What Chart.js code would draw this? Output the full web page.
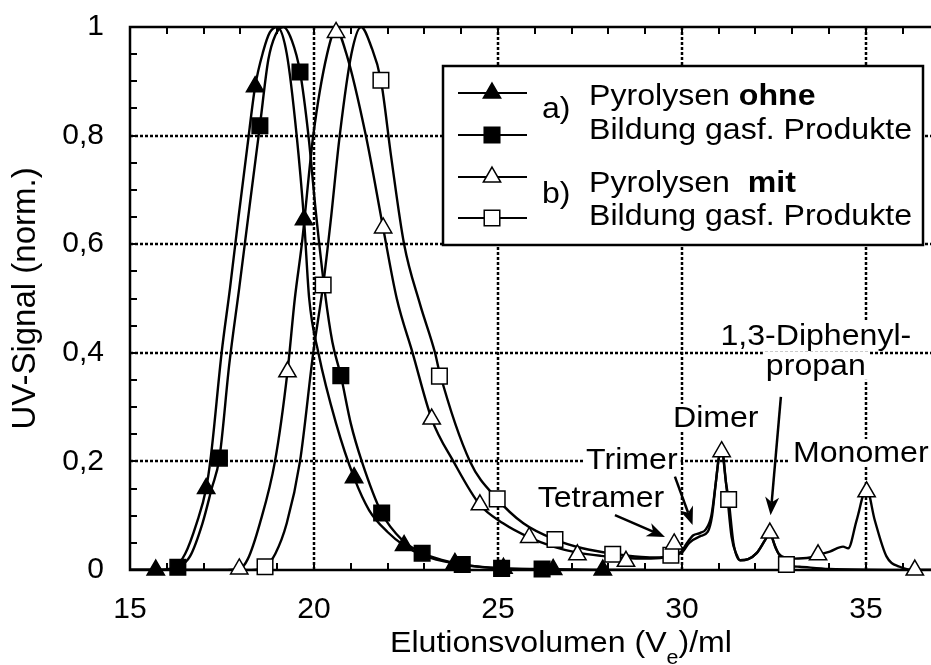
<!DOCTYPE html>
<html>
<head>
<meta charset="utf-8">
<script src="https://cdn.jsdelivr.net/npm/chart.js@4.4.1/dist/chart.umd.min.js"></script>
<style>
  html, body { margin: 0; padding: 0; background: #fff; }
  canvas { display: block; }
</style>
</head>
<body>
<canvas id="gpc" width="931" height="665"></canvas>
<script>
const FONT = '"Liberation Sans", Arial, Helvetica, sans-serif';
const SX = 1.07; // labels are set a little wide

// axes
const xTickLabels = [15, 20, 25, 30, 35];
const yTickValues = [0, 0.2, 0.4, 0.6, 0.8, 1];
const yTickLabels = ['0', '0,2', '0,4', '0,6', '0,8', '1'];
const X_MIN = 15, X_MAX = 36.77;

// a) Pyrolysen ohne Bildung gasf. Produkte -- gefuellte Dreiecke
const ohneTriVol = [15.0, 15.7, 16.2, 16.5, 16.81, 17.07, 17.2, 17.49, 17.72, 17.95, 18.19, 18.4, 18.62, 18.8, 19.0, 19.26, 19.53, 19.73, 19.87, 20.12, 20.6, 21.09, 21.5, 22.0, 22.45, 23.0, 23.83, 24.5, 25.15, 26.5, 27.85, 29.0];
const ohneTriSig = [0, 0, 0.005, 0.03, 0.086, 0.15, 0.21, 0.4, 0.52, 0.65, 0.78, 0.89, 0.955, 0.99, 1.0, 0.951, 0.8, 0.645, 0.5, 0.4, 0.27, 0.17, 0.11, 0.07, 0.045, 0.026, 0.012, 0.006, 0.003, 0.001, 0, 0];
const ohneTriMarkVol = [15.7, 17.07, 18.4, 19.73, 21.09, 22.45, 23.83, 25.15, 26.5, 27.85];
const ohneTriMarkSig = [0, 0.15, 0.89, 0.645, 0.17, 0.045, 0.012, 0.003, 0.001, 0];

// a) gefuellte Quadrate
const ohneSqVol = [15.0, 16.0, 16.3, 16.63, 16.97, 17.22, 17.43, 17.7, 17.97, 18.25, 18.53, 18.76, 18.95, 19.17, 19.4, 19.62, 19.85, 20.05, 20.3, 20.5, 20.73, 21.0, 21.3, 21.84, 22.4, 22.94, 23.5, 24.03, 25.1, 26.2, 28.0, 29.0];
const ohneSqSig = [0, 0, 0.005, 0.025, 0.086, 0.15, 0.206, 0.38, 0.52, 0.67, 0.818, 0.94, 0.985, 1.0, 0.975, 0.918, 0.8, 0.66, 0.51, 0.42, 0.358, 0.27, 0.2, 0.105, 0.055, 0.031, 0.018, 0.01, 0.003, 0.002, 0, 0];
const ohneSqMarkVol = [16.3, 17.43, 18.53, 19.62, 20.73, 21.84, 22.94, 24.03, 25.1, 26.2];
const ohneSqMarkSig = [0.005, 0.206, 0.818, 0.917, 0.358, 0.105, 0.031, 0.01, 0.003, 0.002];

// b) Pyrolysen mit Bildung gasf. Produkte -- offene Dreiecke
const mitTriVol = [15.0, 17.5, 17.97, 18.2, 18.53, 18.94, 19.28, 19.48, 19.67, 19.98, 20.36, 20.6, 20.88, 21.41, 21.88, 22.25, 22.68, 23.2, 23.79, 24.51, 25.14, 25.85, 26.5, 27.16, 27.8, 28.48, 29.0, 29.5, 29.79, 30.0, 30.13, 30.31, 30.49, 30.65, 30.8, 30.92, 31.0, 31.08, 31.21, 31.35, 31.49, 31.58, 31.8, 32.03, 32.26, 32.39, 32.5, 32.62, 32.85, 33.03, 33.48, 33.7, 34.02, 34.38, 34.52, 34.75, 35.02, 35.24, 35.56, 35.92, 36.33, 36.8];
const mitTriSig = [0, 0, 0.002, 0.02, 0.086, 0.2, 0.365, 0.5, 0.6, 0.8, 0.951, 0.995, 0.951, 0.8, 0.63, 0.5, 0.4, 0.278, 0.2, 0.12, 0.086, 0.06, 0.043, 0.032, 0.026, 0.022, 0.021, 0.023, 0.03, 0.035, 0.049, 0.064, 0.068, 0.075, 0.1, 0.16, 0.205, 0.222, 0.153, 0.061, 0.028, 0.018, 0.02, 0.031, 0.055, 0.068, 0.05, 0.031, 0.022, 0.021, 0.023, 0.028, 0.034, 0.043, 0.04, 0.092, 0.15, 0.092, 0.025, 0.006, 0, 0];
const mitTriMarkVol = [17.97, 19.28, 20.6, 21.88, 23.2, 24.51, 25.85, 27.16, 28.48, 29.79, 31.08, 32.39, 33.7, 35.02, 36.33];
const mitTriMarkSig = [0.002, 0.365, 0.99, 0.63, 0.278, 0.12, 0.06, 0.028, 0.016, 0.048, 0.218, 0.068, 0.028, 0.144, 0];

// b) offene Quadrate
const mitSqVol = [15.0, 18.3, 18.67, 18.95, 19.26, 19.62, 19.98, 20.25, 20.45, 20.7, 21.02, 21.28, 21.55, 21.82, 22.1, 22.45, 22.88, 23.29, 23.41, 24.24, 24.98, 25.69, 26.55, 27.3, 28.12, 28.9, 29.4, 29.7, 30.0, 30.2, 30.49, 30.7, 30.82, 30.92, 31.0, 31.08, 31.2, 31.27, 31.4, 31.58, 31.8, 32.03, 32.26, 32.39, 32.55, 32.84, 33.2, 34.0, 36.8];
const mitSqSig = [0, 0, 0.006, 0.03, 0.086, 0.2, 0.4, 0.525, 0.64, 0.8, 0.951, 1.0, 0.965, 0.902, 0.76, 0.6, 0.49, 0.4, 0.365, 0.2, 0.131, 0.086, 0.056, 0.04, 0.03, 0.024, 0.023, 0.027, 0.032, 0.05, 0.062, 0.07, 0.1, 0.16, 0.205, 0.222, 0.16, 0.13, 0.05, 0.018, 0.02, 0.031, 0.055, 0.068, 0.04, 0.01, 0.006, 0.002, 0];
const mitSqMarkVol = [18.67, 20.25, 21.82, 23.41, 24.98, 26.55, 28.12, 29.7, 31.27, 32.84];
const mitSqMarkSig = [0.006, 0.525, 0.902, 0.357, 0.131, 0.056, 0.029, 0.027, 0.13, 0.01];

// peak labels (data coordinates) and arrows
const notes = [
  { text: 'Tetramer', v: 27.8, s: 0.133, align: 'center' },
  { text: 'Trimer', v: 28.64, s: 0.203, align: 'center' },
  { text: 'Dimer', v: 30.92, s: 0.28, align: 'center' },
  { text: '1,3-Diphenyl-', v: 33.64, s: 0.431, align: 'center' },
  { text: 'propan', v: 33.64, s: 0.376, align: 'center' },
  { text: 'Monomer', v: 33.02, s: 0.2155, align: 'left' }
];
const arrows = [
  { from: [28.18, 0.101], to: [29.54, 0.061] },
  { from: [29.81, 0.172], to: [30.29, 0.083] },
  { from: [32.69, 0.319], to: [32.41, 0.101] }
];

const pts = (vs, ss) => vs.map((v, i) => ({ x: v, y: ss[i] }));
const curve = (vs, ss) => ({
  data: pts(vs, ss), showLine: true, pointRadius: 0, borderColor: '#000',
  borderWidth: 2.4, cubicInterpolationMode: 'monotone', fill: false, order: 1
});
const marks = (vs, ss, style, filled) => ({
  data: pts(vs, ss), showLine: false, pointStyle: style,
  pointRadius: style === 'triangle' ? 10 : 11, pointHoverRadius: style === 'triangle' ? 10 : 11,
  pointBackgroundColor: filled ? '#000' : '#fff', pointBorderColor: '#000',
  pointBorderWidth: 1.5, order: 0, clip: false
});

function drawMark(ctx, style, x, y, r, filled) {
  ctx.beginPath();
  if (style === 'triangle') {
    ctx.moveTo(x, y - r);
    ctx.lineTo(x + r * Math.sin(2 * Math.PI / 3), y - r * Math.cos(2 * Math.PI / 3));
    ctx.lineTo(x + r * Math.sin(4 * Math.PI / 3), y - r * Math.cos(4 * Math.PI / 3));
    ctx.closePath();
  } else {
    const h = r * Math.SQRT1_2;
    ctx.rect(x - h, y - h, 2 * h, 2 * h);
  }
  ctx.fillStyle = filled ? '#000' : '#fff';
  ctx.fill();
  ctx.lineWidth = 1.5;
  ctx.strokeStyle = '#000';
  ctx.stroke();
}

// text squeezed/stretched along x, returns the drawn width
function wideText(ctx, text, x, y) {
  ctx.save();
  ctx.translate(x, y);
  ctx.scale(SX, 1);
  ctx.textAlign = 'left';
  ctx.fillText(text, 0, 0);
  ctx.restore();
  return ctx.measureText(text).width * SX;
}

function arrow(ctx, x1, y1, x2, y2) {
  const ang = Math.atan2(y2 - y1, x2 - x1);
  const len = 18, half = 7, back = 13;
  ctx.beginPath();
  ctx.moveTo(x1, y1);
  ctx.lineTo(x2 - Math.cos(ang) * back, y2 - Math.sin(ang) * back);
  ctx.lineWidth = 2.5;
  ctx.stroke();
  const bx = x2 - Math.cos(ang) * len, by = y2 - Math.sin(ang) * len;
  const nx = -Math.sin(ang), ny = Math.cos(ang);
  ctx.beginPath();
  ctx.moveTo(x2, y2);
  ctx.lineTo(bx + nx * half, by + ny * half);
  ctx.lineTo(x2 - Math.cos(ang) * back, y2 - Math.sin(ang) * back);
  ctx.lineTo(bx - nx * half, by - ny * half);
  ctx.closePath();
  ctx.fill();
}

const frame = {
  id: 'frame',
  beforeDatasetsDraw(chart) {
    const { ctx, chartArea: a, scales: { x, y } } = chart;
    ctx.save();
    ctx.strokeStyle = '#000';
    ctx.fillStyle = '#000';

    // dotted grid at the labelled ticks
    ctx.lineWidth = 2.5;
    ctx.setLineDash([3, 2]);
    xTickLabels.slice(1).forEach(v => {
      const px = Math.round(x.getPixelForValue(v));
      ctx.beginPath(); ctx.moveTo(px, a.top); ctx.lineTo(px, a.bottom); ctx.stroke();
    });
    yTickValues.slice(1, -1).forEach(v => {
      const py = Math.round(y.getPixelForValue(v));
      ctx.beginPath(); ctx.moveTo(a.left, py); ctx.lineTo(a.right, py); ctx.stroke();
    });
    ctx.setLineDash([]);

    // peak labels on white
    ctx.font = '30px ' + FONT;
    ctx.textBaseline = 'middle';
    notes.forEach(n => {
      const px = x.getPixelForValue(n.v), py = y.getPixelForValue(n.s);
      const w = ctx.measureText(n.text).width * SX;
      const left = n.align === 'center' ? px - w / 2 : px;
      ctx.fillStyle = '#fff';
      ctx.fillRect(left - 3, py - 14, w + 6, 28);
      ctx.fillStyle = '#000';
      wideText(ctx, n.text, left, py + 1);
    });
    arrows.forEach(r => {
      arrow(ctx, x.getPixelForValue(r.from[0]), y.getPixelForValue(r.from[1]),
        x.getPixelForValue(r.to[0]), y.getPixelForValue(r.to[1]));
    });

    // frame and inward ticks
    ctx.lineWidth = 2.5;
    ctx.beginPath();
    ctx.moveTo(a.right + 2, a.top); ctx.lineTo(a.left, a.top);
    ctx.lineTo(a.left, a.bottom); ctx.lineTo(a.right + 2, a.bottom);
    ctx.stroke();
    ctx.lineWidth = 2;
    for (let v = X_MIN + 1; v < X_MAX; v += 1) {
      const px = Math.round(x.getPixelForValue(v));
      ctx.beginPath();
      ctx.moveTo(px, a.bottom); ctx.lineTo(px, a.bottom - 7);
      ctx.moveTo(px, a.top); ctx.lineTo(px, a.top + 7);
      ctx.stroke();
    }
    for (let i = 1; i < 20; i++) {
      const py = Math.round(y.getPixelForValue(i * 0.05));
      ctx.beginPath(); ctx.moveTo(a.left, py); ctx.lineTo(a.left + 7, py); ctx.stroke();
    }
    ctx.restore();
  },
  afterDatasetsDraw(chart) {
    const { ctx, chartArea: a } = chart;
    ctx.save();

    // legend box
    const L = { x: 443, y: 66, w: 480, h: 179 };
    ctx.fillStyle = '#fff';
    ctx.fillRect(L.x, L.y, L.w, L.h);
    ctx.lineWidth = 2.5;
    ctx.strokeStyle = '#000';
    ctx.strokeRect(L.x, L.y, L.w, L.h);
    const rows = [
      { y: 93, style: 'triangle', filled: true },
      { y: 135, style: 'rect', filled: true },
      { y: 177, style: 'triangle', filled: false },
      { y: 218, style: 'rect', filled: false }
    ];
    rows.forEach(r => {
      ctx.lineWidth = 2;
      ctx.beginPath(); ctx.moveTo(458, r.y); ctx.lineTo(527, r.y); ctx.stroke();
      drawMark(ctx, r.style, 492, r.y, r.style === 'triangle' ? 10 : 11, r.filled);
    });
    ctx.fillStyle = '#000';
    ctx.textBaseline = 'alphabetic';
    const reg = '30px ' + FONT, bold = 'bold 30px ' + FONT;
    ctx.font = reg;
    wideText(ctx, 'a)', 542, 118);
    wideText(ctx, 'b)', 542, 203);
    const mixed = (plain, strong, x0, y0) => {
      ctx.font = reg;
      const w = wideText(ctx, plain, x0, y0);
      ctx.font = bold;
      wideText(ctx, strong, x0 + w, y0);
    };
    mixed('Pyrolysen ', 'ohne', 589, 105);
    ctx.font = reg; wideText(ctx, 'Bildung gasf. Produkte', 589, 139);
    mixed('Pyrolysen  ', 'mit', 589, 192);
    ctx.font = reg; wideText(ctx, 'Bildung gasf. Produkte', 589, 225);

    // x axis title with subscript
    const t1 = 'Elutionsvolumen (V', t2 = 'e', t3 = ')/ml';
    ctx.font = reg;
    const w1 = ctx.measureText(t1).width * SX, w3 = ctx.measureText(t3).width * SX;
    ctx.font = '20px ' + FONT;
    const w2 = ctx.measureText(t2).width * SX;
    let tx = 561 - (w1 + w2 + w3) / 2;
    ctx.font = reg; wideText(ctx, t1, tx, 652); tx += w1;
    ctx.font = '20px ' + FONT; wideText(ctx, t2, tx, 664); tx += w2;
    ctx.font = reg; wideText(ctx, t3, tx, 652);

    // y axis title
    ctx.translate(26, (a.top + a.bottom) / 2);
    ctx.rotate(-Math.PI / 2);
    ctx.textAlign = 'center';
    ctx.textBaseline = 'middle';
    ctx.font = '33px ' + FONT;
    ctx.fillText('UV-Signal (norm.)', 0, 0);
    ctx.restore();
  }
};

new Chart(document.getElementById('gpc'), {
  type: 'scatter',
  data: {
    datasets: [
      marks(ohneTriMarkVol, ohneTriMarkSig, 'triangle', true),
      marks(ohneSqMarkVol, ohneSqMarkSig, 'rect', true),
      marks(mitTriMarkVol, mitTriMarkSig, 'triangle', false),
      marks(mitSqMarkVol, mitSqMarkSig, 'rect', false),
      curve(ohneTriVol, ohneTriSig),
      curve(ohneSqVol, ohneSqSig),
      curve(mitTriVol, mitTriSig),
      curve(mitSqVol, mitSqSig)
    ]
  },
  options: {
    responsive: false,
    animation: false,
    events: [],
    layout: { autoPadding: false, padding: { top: 27, right: 0, left: 0, bottom: 0 } },
    plugins: { legend: { display: false }, tooltip: { enabled: false } },
    scales: {
      x: {
        type: 'linear', min: X_MIN, max: X_MAX,
        grid: { display: false }, border: { display: false },
        afterBuildTicks: s => { s.ticks = xTickLabels.map(v => ({ value: v })); },
        ticks: { autoSkip: false, maxRotation: 0, padding: 14, color: '#000',
                 font: { family: FONT, size: 30 }, callback: v => String(v) },
        afterFit: s => { s.height = 95; s.paddingLeft = 0; s.paddingRight = 0; }
      },
      y: {
        type: 'linear', min: 0, max: 1,
        grid: { display: false }, border: { display: false },
        afterBuildTicks: s => { s.ticks = yTickValues.map(v => ({ value: v })); },
        ticks: { autoSkip: false, padding: 18, color: '#000',
                 font: { family: FONT, size: 30 }, callback: (v, i) => yTickLabels[i] },
        afterFit: s => { s.width = 130; s.paddingTop = 0; s.paddingBottom = 0; }
      }
    }
  },
  plugins: [frame]
});
</script>
</body>
</html>
